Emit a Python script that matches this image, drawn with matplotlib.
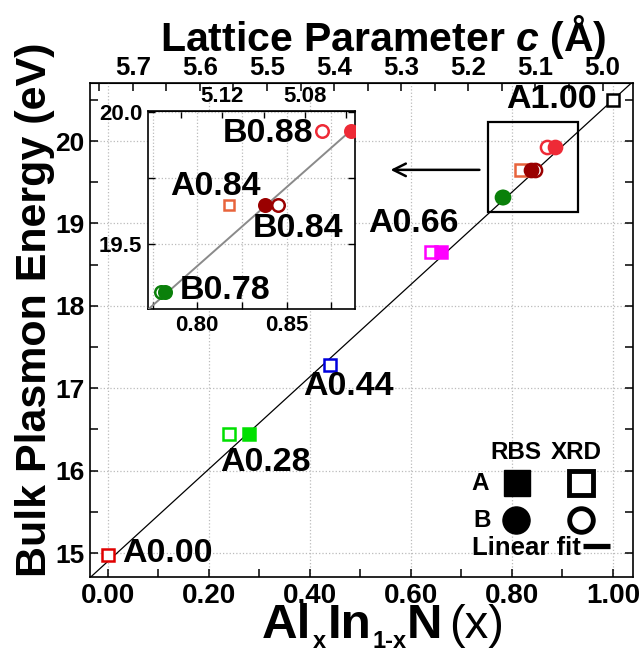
import numpy as np
import matplotlib
matplotlib.use('Agg')
import matplotlib.pyplot as plt
from matplotlib.ticker import MultipleLocator, FixedLocator, FormatStrFormatter
from matplotlib.patches import Rectangle

plt.rcParams['font.family'] = ['Liberation Sans', 'DejaVu Sans']
plt.rcParams['font.weight'] = 'bold'
plt.rcParams['mathtext.fontset'] = 'custom'
plt.rcParams['mathtext.rm'] = 'Liberation Sans:bold'
plt.rcParams['mathtext.it'] = 'Liberation Sans:italic:bold'
plt.rcParams['mathtext.bf'] = 'Liberation Sans:bold'

# ---------------- data ----------------
samples = ['A0.00', 'A0.28', 'A0.44', 'A0.66', 'A0.84', 'B0.78', 'B0.84', 'B0.88', 'A1.00']
series = ['A', 'A', 'A', 'A', 'A', 'B', 'B', 'B', 'A']
rbs_x = [np.nan, 0.28, np.nan, 0.66, np.nan, 0.782, 0.838, 0.886, np.nan]
xrd_x = [0.00, 0.24, 0.44, 0.64, 0.818, 0.7796, 0.845, 0.87, 1.00]
energy = [14.98, 16.44, 17.28, 18.65, 19.65, 19.32, 19.65, 19.93, 20.50]
colors = ['#e00000', '#00e000', '#0000dd', '#ff00ff', '#e8643c',
          '#0a800a', '#9a0000', '#ee2a36', '#000000']

# linear fit (main panel) and as drawn in the inset
fit_slope, fit_intercept = 5.6, 14.90
inset_fit_slope, inset_fit_intercept = 5.98, 14.633

# lattice parameter c vs x (top axes): c = c0 - k*x
c_main = (5.737, 0.7526)
c_inset = (5.8216, 0.862)

main_ticks_x = [0.0, 0.2, 0.4, 0.6, 0.8, 1.0]
main_ticks_y = [15, 16, 17, 18, 19, 20]
top_ticks = [5.0, 5.1, 5.2, 5.3, 5.4, 5.5, 5.6, 5.7]
inset_ticks_x = [0.775, 0.80, 0.825, 0.85, 0.875]
inset_ticks_y = [19.5, 19.75, 20.0]
inset_top_ticks = [5.06, 5.08, 5.10, 5.12, 5.14]

# ---------------- figure ----------------
fig = plt.figure(figsize=(6.4, 6.48), dpi=100)
W, H = 640, 648

def axrect(l, t, r, b):
    return [l / W, (H - b) / H, (r - l) / W, (b - t) / H]

ax = fig.add_axes(axrect(90, 83, 633, 577))
ax.set_xlim(-0.0356, 1.0396)
ax.set_ylim(14.709, 20.704)

def draw_points(a, ms_sq, ms_ci, mew):
    for i in range(len(samples)):
        mk = 's' if series[i] == 'A' else 'o'
        ms = ms_sq if mk == 's' else ms_ci
        a.plot([xrd_x[i]], [energy[i]], marker=mk, ms=ms, mfc='white',
               mec=colors[i], mew=mew, ls='none', zorder=5)
        if not np.isnan(rbs_x[i]):
            a.plot([rbs_x[i]], [energy[i]], marker=mk, ms=ms, mfc=colors[i],
                   mec=colors[i], mew=mew, ls='none', zorder=6)

xf = np.array([-0.05, 1.06])
ax.plot(xf, fit_intercept + fit_slope * xf, color='black', lw=0.9, zorder=3)
draw_points(ax, 8.5, 9.5, 1.8)

ax.xaxis.set_major_locator(FixedLocator(main_ticks_x))
ax.xaxis.set_minor_locator(MultipleLocator(0.1))
ax.yaxis.set_major_locator(FixedLocator(main_ticks_y))
ax.yaxis.set_minor_locator(MultipleLocator(0.5))
ax.xaxis.set_major_formatter(FormatStrFormatter('%.2f'))
ax.tick_params(which='both', direction='in', length=6, width=1.1,
               top=False, right=True)
ax.tick_params(axis='x', labelsize=20, pad=4)
ax.tick_params(axis='y', labelsize=19, pad=4)
ax.grid(True, which='major', ls=':', color='#bbbbbb', lw=0.9)
for s in ax.spines.values():
    s.set_linewidth(1.2)

sec = ax.secondary_xaxis('top', functions=(lambda x: c_main[0] - c_main[1] * x,
                                           lambda c: (c_main[0] - c) / c_main[1]))
sec.xaxis.set_major_locator(FixedLocator(top_ticks))
sec.xaxis.set_minor_locator(MultipleLocator(0.05))
sec.xaxis.set_major_formatter(FormatStrFormatter('%.1f'))
sec.tick_params(which='both', direction='in', length=6, width=1.1, labelsize=18.5, pad=2.5)
sec.set_xlabel(r'Lattice Parameter $c$ (Å)', fontsize=29.5, fontweight='bold', labelpad=3)
sec.xaxis.label.set_x(0.541)

ax.set_ylabel('Bulk Plasmon Energy (eV)', fontsize=31, fontweight='bold')
ax.yaxis.set_label_coords(-0.064, 0.54)

# x label, composed piece by piece
fig.canvas.draw()
rend = fig.canvas.get_renderer()
xl_pieces = [('Al', 35.5, 'bold', 0, 1), ('x', 17, 'bold', 10, 2),
             ('In', 35.5, 'bold', 0, 1), ('1-x', 17, 'bold', 10, 0),
             ('N', 35.5, 'bold', 0, 7), ('(x)', 34, 'normal', 0, 0)]
xpos = 262.0
base = 638.0
for txt, fs, fw, drop, gap in xl_pieces:
    t = fig.text(xpos / W, 1 - (base + drop) / H, txt, fontsize=fs, fontweight=fw,
                 ha='left', va='baseline')
    bb = t.get_window_extent(renderer=rend)
    xpos += bb.width + gap

# data labels in main axes
lab_kw = dict(fontsize=24.5, fontweight='bold', va='center', zorder=8)
ax.text(0.968, 20.50, 'A1.00', ha='right', **lab_kw)
ax.text(0.515, 19.00, 'A0.66', ha='left', **lab_kw)
ax.text(0.386, 17.02, 'A0.44', ha='left', **lab_kw)
ax.text(0.222, 16.10, 'A0.28', ha='left', **lab_kw)
ax.text(0.028, 14.99, 'A0.00', ha='left', **lab_kw)

# zoom box + arrow
ax.add_patch(Rectangle((0.752, 19.14), 0.931 - 0.752, 20.23 - 19.14,
                       fill=False, ec='black', lw=1.6, zorder=4))
ax.annotate('', xy=(0.554, 19.65), xytext=(0.741, 19.65),
            arrowprops=dict(arrowstyle='->,head_length=0.9,head_width=0.45',
                            lw=1.8, color='black'), zorder=4)

# legend (manual)
tr = ax.transAxes
leg_fs = 17.5
ax.text(0.7845, 0.253, 'RBS', transform=tr, ha='center', va='center', fontsize=leg_fs)
ax.text(0.895, 0.253, 'XRD', transform=tr, ha='center', va='center', fontsize=leg_fs)
ax.text(0.718, 0.190, 'A', transform=tr, ha='center', va='center', fontsize=leg_fs)
ax.text(0.722, 0.115, 'B', transform=tr, ha='center', va='center', fontsize=leg_fs)
ax.plot([0.786], [0.190], marker='s', ms=19, mfc='black', mec='black', transform=tr, clip_on=False)
ax.plot([0.904], [0.190], marker='s', ms=17, mfc='white', mec='black', mew=3.5, transform=tr, clip_on=False)
ax.plot([0.785], [0.115], marker='o', ms=19.5, mfc='black', mec='black', transform=tr, clip_on=False)
ax.plot([0.904], [0.115], marker='o', ms=17, mfc='white', mec='black', mew=3.5, transform=tr, clip_on=False)
ax.text(0.703, 0.058, 'Linear fit', transform=tr, ha='left', va='center', fontsize=18.5)
ax.plot([0.908, 0.958], [0.062, 0.062], color='black', lw=3.8, transform=tr, solid_capstyle='butt')

# ---------------- inset ----------------
ins = fig.add_axes(axrect(148, 111, 355, 309))
ins.set_xlim(0.7724, 0.8883)
ins.set_ylim(19.254, 20.005)
ins.plot(xf, inset_fit_intercept + inset_fit_slope * xf, color='#8a8a8a', lw=1.4, zorder=3)
draw_points(ins, 7.5, 9.0, 1.8)
ins.xaxis.set_major_locator(FixedLocator(inset_ticks_x))
ins.set_xticklabels(['', '0.80', '', '0.85', ''])
ins.yaxis.set_major_locator(FixedLocator(inset_ticks_y))
ins.set_yticklabels(['19.5', '', '20.0'])
ins.tick_params(which='both', direction='in', length=5, width=1.0,
                top=False, right=True, labelsize=16, pad=4)
ins.grid(True, ls=':', color='#bbbbbb', lw=0.9)
for s in ins.spines.values():
    s.set_linewidth(1.2)
sec2 = ins.secondary_xaxis('top', functions=(lambda x: c_inset[0] - c_inset[1] * x,
                                             lambda c: (c_inset[0] - c) / c_inset[1]))
sec2.xaxis.set_major_locator(FixedLocator(inset_top_ticks))
sec2.xaxis.set_major_formatter(plt.FuncFormatter(
    lambda v, p: '%.2f' % v if round(v * 100) % 4 == 0 else ''))
sec2.tick_params(which='both', direction='in', length=5, width=1.0, labelsize=16, pad=3)

ins_kw = dict(fontsize=24.5, fontweight='bold', va='center', zorder=8)
ins.text(0.8649, 19.92, 'B0.88', ha='right', **ins_kw)
ins.text(0.7847, 19.72, 'A0.84', ha='left', **ins_kw)
ins.text(0.8312, 19.56, 'B0.84', ha='left', **ins_kw)
ins.text(0.7903, 19.326, 'B0.78', ha='left', **ins_kw)

fig.savefig('out.png', dpi=100)
